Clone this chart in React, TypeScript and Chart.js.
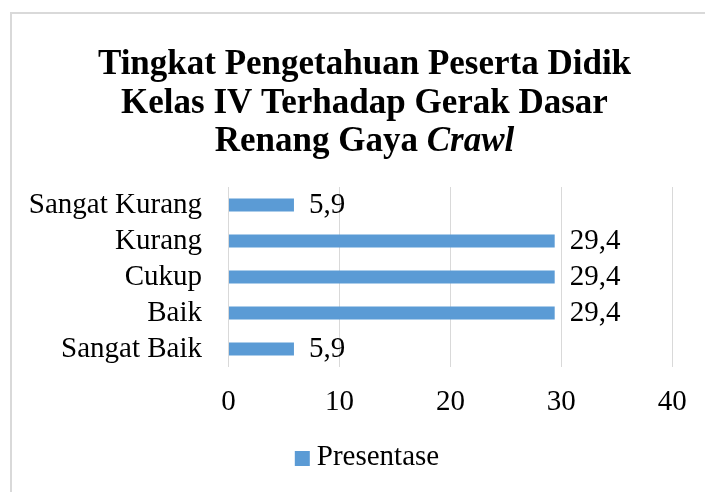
import React, { useEffect, useRef } from 'react';
import { Chart, registerables } from 'chart.js';

Chart.register(...registerables);

const categories = ['Sangat Kurang', 'Kurang', 'Cukup', 'Baik', 'Sangat Baik'];
const presentase = [5.9, 29.4, 29.4, 29.4, 5.9];
const seriesName = 'Presentase';
const titleLines = ['Tingkat Pengetahuan Peserta Didik', 'Kelas IV Terhadap Gerak Dasar'];
const titleLastPlain = 'Renang Gaya ';
const titleLastItalic = 'Crawl';
const xMin = 0;
const xMax = 40;
const xStep = 10;

const FONT = "'Liberation Serif', 'Times New Roman', serif";
const BAR_COLOR = '#5b9bd5';
const GRID_COLOR = '#d9d9d9';
const TEXT_SIZE = 29;

const titlePlugin = {
  id: 'mixedTitle',
  afterDraw(chart: any) {
    const ctx = chart.ctx;
    const cx = 364.5;
    const baselines = [74, 112.5, 151];
    ctx.save();
    ctx.fillStyle = '#000';
    ctx.textBaseline = 'alphabetic';
    ctx.textAlign = 'center';
    ctx.font = `bold 35px ${FONT}`;
    titleLines.forEach((t, i) => ctx.fillText(t, cx, baselines[i]));
    ctx.textAlign = 'left';
    const w1 = ctx.measureText(titleLastPlain).width;
    ctx.font = `italic bold 35px ${FONT}`;
    const w2 = ctx.measureText(titleLastItalic).width;
    const start = cx - (w1 + w2) / 2;
    ctx.font = `bold 35px ${FONT}`;
    ctx.fillText(titleLastPlain, start, baselines[2]);
    ctx.font = `italic bold 35px ${FONT}`;
    ctx.fillText(titleLastItalic, start + w1, baselines[2]);
    ctx.restore();
  },
};

const valueLabelPlugin = {
  id: 'valueLabels',
  afterDatasetsDraw(chart: any) {
    const ctx = chart.ctx;
    const meta = chart.getDatasetMeta(0);
    const data = chart.data.datasets[0].data as number[];
    ctx.save();
    ctx.font = `${TEXT_SIZE}px ${FONT}`;
    ctx.fillStyle = '#000';
    ctx.textAlign = 'left';
    ctx.textBaseline = 'middle';
    meta.data.forEach((el: any, i: number) => {
      ctx.fillText(data[i].toFixed(1).replace('.', ','), el.x + 15, el.y);
    });
    ctx.restore();
  },
};

const legendPlugin = {
  id: 'bottomLegend',
  afterDraw(chart: any) {
    const ctx = chart.ctx;
    const ds = chart.data.datasets[0];
    const cx = 367;
    const cy = 458.5;
    const box = 15;
    const gap = 7;
    ctx.save();
    ctx.font = `${TEXT_SIZE}px ${FONT}`;
    const tw = ctx.measureText(ds.label).width;
    const start = cx - (box + gap + tw) / 2;
    ctx.fillStyle = ds.backgroundColor;
    ctx.fillRect(start, cy - box / 2, box, box);
    ctx.fillStyle = '#000';
    ctx.textAlign = 'left';
    ctx.textBaseline = 'middle';
    ctx.fillText(ds.label, start + box + gap, cy - 1);
    ctx.restore();
  },
};

export default function App() {
  const canvasRef = useRef<HTMLCanvasElement | null>(null);

  useEffect(() => {
    if (!canvasRef.current) return;
    const chart = new Chart(canvasRef.current, {
      type: 'bar',
      data: {
        labels: categories,
        datasets: [
          {
            label: seriesName,
            data: presentase,
            backgroundColor: BAR_COLOR,
            borderWidth: 0,
            categoryPercentage: 1,
            barPercentage: 0.355,
          },
        ],
      },
      options: {
        indexAxis: 'y',
        responsive: false,
        animation: false,
        devicePixelRatio: 1,
        events: [],
        layout: {
          padding: { left: 0, right: 32.7, top: 187, bottom: 48.5 },
        },
        scales: {
          x: {
            type: 'linear',
            min: xMin,
            max: xMax,
            afterFit: (scale: any) => {
              scale.height = 76.5;
            },
            ticks: {
              stepSize: xStep,
              padding: 18.1,
              color: '#000',
              font: { family: FONT, size: TEXT_SIZE },
            },
            grid: {
              color: GRID_COLOR,
              lineWidth: 1,
              drawTicks: false,
            },
            border: { display: false },
          },
          y: {
            type: 'category',
            afterFit: (scale: any) => {
              scale.width = 228.5;
            },
            ticks: {
              autoSkip: false,
              padding: 26.5,
              color: '#000',
              font: { family: FONT, size: TEXT_SIZE },
            },
            grid: { display: false, drawTicks: false },
            border: { display: false },
          },
        },
        plugins: {
          title: { display: false },
          tooltip: { enabled: false },
          legend: { display: false },
        },
      },
      plugins: [titlePlugin, valueLabelPlugin, legendPlugin],
    });
    return () => chart.destroy();
  }, []);

  return (
    <div
      style={{
        position: 'fixed',
        left: 0,
        top: 0,
        width: 705,
        height: 492,
        overflow: 'hidden',
        background: '#fff',
      }}
    >
      <div
        style={{
          position: 'absolute',
          left: 10,
          top: 12,
          width: 800,
          height: 600,
          border: '2px solid #d9d9d9',
          boxSizing: 'border-box',
        }}
      />
      <canvas
        ref={canvasRef}
        width={705}
        height={492}
        style={{ position: 'absolute', left: 0, top: 0, width: 705, height: 492 }}
      />
    </div>
  );
}
